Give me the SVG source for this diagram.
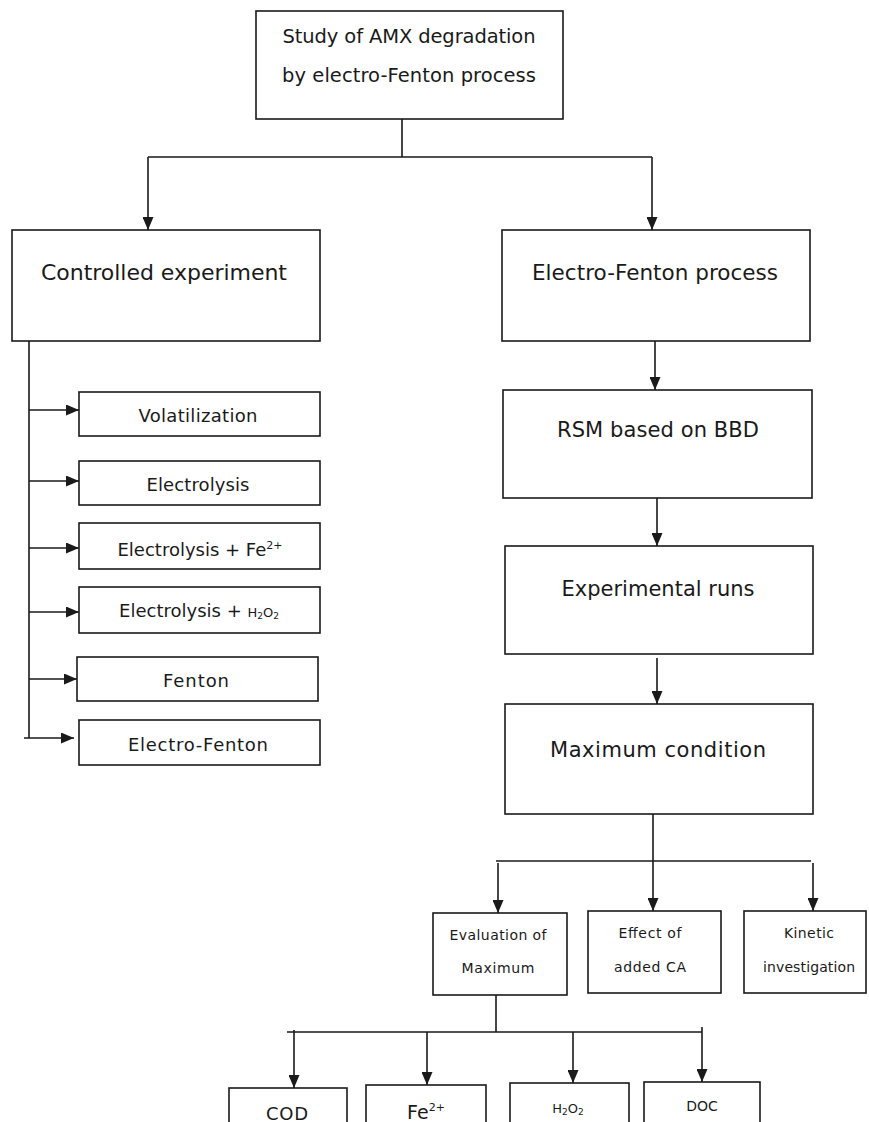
<svg xmlns="http://www.w3.org/2000/svg" width="869" height="1122" viewBox="0 0 869 1122">
<style>
.box{fill:#fff;stroke:#1a1a1a;stroke-width:1.6}
.ln{fill:none;stroke:#1a1a1a;stroke-width:1.6}
.ar{fill:none;stroke:#1a1a1a;stroke-width:1.6;marker-end:url(#ah)}
text{font-family:"DejaVu Sans","Liberation Sans",sans-serif;fill:#1a1a1a;text-anchor:middle}
.t22{font-size:21px}
.t18{font-size:18px}
.t14{font-size:14px}
.hs{font-size:13px}
.hsub{font-size:9px}
</style>
<defs>
<marker id="ah" markerUnits="userSpaceOnUse" markerWidth="13" markerHeight="11" refX="13" refY="5.5" orient="auto">
<path d="M0,0 L13,5.5 L0,11 z" fill="#1a1a1a"/>
</marker>
</defs>
<rect width="869" height="1122" fill="#fff"/>
<g id="connectors">
<path class="ln" d="M402,119 V157 M148,157 H652"/>
<path class="ar" d="M148,157 V230"/>
<path class="ar" d="M652,157 V230"/>
<path class="ln" d="M29,341 V738"/>
<path class="ar" d="M29,410 H79"/>
<path class="ar" d="M29,481 H79"/>
<path class="ar" d="M29,548 H79"/>
<path class="ar" d="M29,612 H79"/>
<path class="ar" d="M29,679 H77"/>
<path class="ar" d="M24,738 H74"/>
<path class="ar" d="M655,341 V390"/>
<path class="ar" d="M657,498 V546"/>
<path class="ar" d="M657,658 V704"/>
<path class="ar" d="M653,814 V911"/>
<path class="ln" d="M496,861 H811"/>
<path class="ar" d="M498,863 V913"/>
<path class="ar" d="M813,863 V911"/>
<path class="ln" d="M496,995 V1032 M287,1032 H702"/>
<path class="ar" d="M294,1030 V1088"/>
<path class="ar" d="M427,1032 V1085"/>
<path class="ar" d="M573,1032 V1083"/>
<path class="ar" d="M702,1027 V1082"/>
</g>
<g id="n-top">
<rect class="box" x="256" y="11" width="307" height="108"/>
<text x="409" y="43" font-size="19.5" textLength="253" lengthAdjust="spacing">Study of AMX degradation</text>
<text x="409" y="82" font-size="19.5" textLength="254" lengthAdjust="spacing">by electro-Fenton process</text>
</g>
<g id="n-controlled">
<rect class="box" x="12" y="230" width="308" height="111"/>
<text x="164" y="280" font-size="22" textLength="246" lengthAdjust="spacing">Controlled experiment</text>
</g>
<g id="n-ef">
<rect class="box" x="502" y="230" width="308" height="111"/>
<text x="655" y="280" font-size="21.5" textLength="246" lengthAdjust="spacing">Electro-Fenton process</text>
</g>
<g id="n-vol">
<rect class="box" x="79" y="392" width="241" height="44"/>
<text class="t18" x="198" y="422" textLength="119" lengthAdjust="spacing">Volatilization</text>
</g>
<g id="n-elec">
<rect class="box" x="79" y="461" width="241" height="44"/>
<text class="t18" x="198" y="491" textLength="103" lengthAdjust="spacing">Electrolysis</text>
</g>
<g id="n-elec-fe">
<rect class="box" x="79" y="523" width="241" height="46"/>
<text class="t18" x="200" y="556">Electrolysis + Fe<tspan font-size="11" dy="-7">2+</tspan></text>
</g>
<g id="n-elec-h2o2">
<rect class="box" x="79" y="587" width="241" height="46"/>
<text class="t18" x="199" y="617">Electrolysis + <tspan class="hs">H</tspan><tspan class="hsub" dy="2">2</tspan><tspan class="hs" dy="-2">O</tspan><tspan class="hsub" dy="2">2</tspan></text>
</g>
<g id="n-fenton">
<rect class="box" x="77" y="657" width="241" height="44"/>
<text class="t18" x="196" y="687" textLength="66" lengthAdjust="spacing">Fenton</text>
</g>
<g id="n-efenton">
<rect class="box" x="79" y="720" width="241" height="45"/>
<text class="t18" x="198" y="751" textLength="140" lengthAdjust="spacing">Electro-Fenton</text>
</g>
<g id="n-rsm">
<rect class="box" x="503" y="390" width="309" height="108"/>
<text class="t22" x="658" y="437" textLength="202" lengthAdjust="spacing">RSM based on BBD</text>
</g>
<g id="n-runs">
<rect class="box" x="505" y="546" width="308" height="108"/>
<text class="t22" x="658" y="596" textLength="193" lengthAdjust="spacing">Experimental runs</text>
</g>
<g id="n-max">
<rect class="box" x="505" y="704" width="308" height="110"/>
<text class="t22" x="658" y="757" textLength="216" lengthAdjust="spacing">Maximum condition</text>
</g>
<g id="n-eval">
<rect class="box" x="433" y="913" width="134" height="82"/>
<text class="t14" x="498" y="940" textLength="97" lengthAdjust="spacing">Evaluation of</text>
<text class="t14" x="498" y="973" textLength="73" lengthAdjust="spacing">Maximum</text>
</g>
<g id="n-effect">
<rect class="box" x="588" y="911" width="133" height="82"/>
<text class="t14" x="650" y="938" textLength="63" lengthAdjust="spacing">Effect of</text>
<text class="t14" x="650" y="972" textLength="72" lengthAdjust="spacing">added CA</text>
</g>
<g id="n-kinetic">
<rect class="box" x="744" y="911" width="122" height="82"/>
<text class="t14" x="809" y="938" textLength="50" lengthAdjust="spacing">Kinetic</text>
<text class="t14" x="809" y="972" textLength="92" lengthAdjust="spacing">investigation</text>
</g>
<g id="n-cod">
<rect class="box" x="229" y="1088" width="118" height="60"/>
<text x="287" y="1120" font-size="18" textLength="42" lengthAdjust="spacing">COD</text>
</g>
<g id="n-fe">
<rect class="box" x="366" y="1085" width="120" height="60"/>
<text x="426" y="1119" font-size="19">Fe<tspan font-size="11" dy="-8">2+</tspan></text>
</g>
<g id="n-h2o2">
<rect class="box" x="510" y="1083" width="119" height="60"/>
<text x="568" y="1113"><tspan class="hs">H</tspan><tspan class="hsub" dy="2">2</tspan><tspan class="hs" dy="-2">O</tspan><tspan class="hsub" dy="2">2</tspan></text>
</g>
<g id="n-doc">
<rect class="box" x="644" y="1082" width="116" height="60"/>
<text x="702" y="1111" font-size="14">DOC</text>
</g>
</svg>
